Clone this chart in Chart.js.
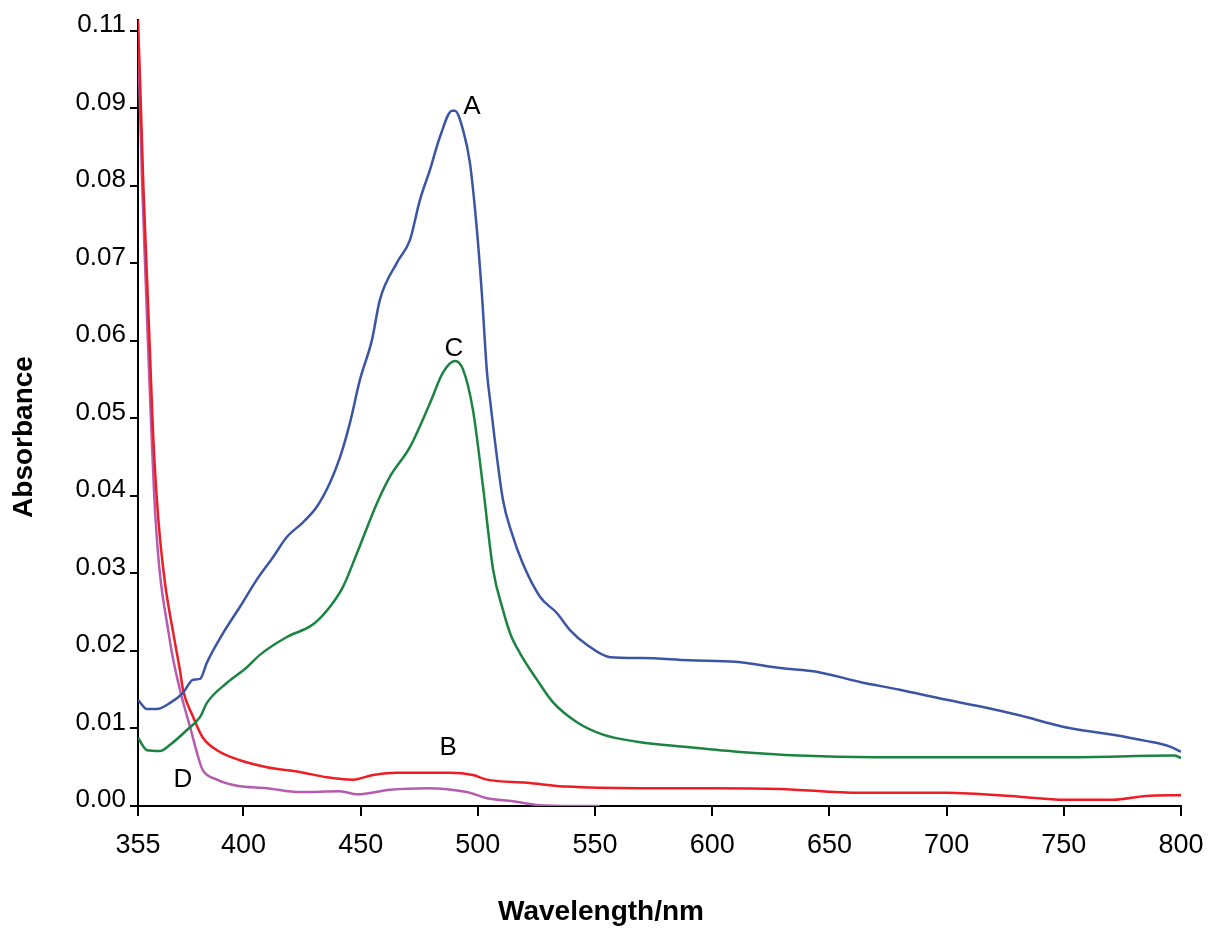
<!DOCTYPE html>
<html>
<head>
<meta charset="utf-8">
<script src="https://cdn.jsdelivr.net/npm/chart.js@4.4.1/dist/chart.umd.min.js"></script>
<style>
  html, body { margin: 0; padding: 0; background: #fff; }
  #wrap { width: 1210px; height: 929px; }
</style>
</head>
<body>
<div id="wrap"><canvas id="spectra"></canvas></div>
<script>
// wavelength (nm) / absorbance
const nmA = [355, 358.8, 363, 368.7, 374.2, 378.5, 381.5, 384.4, 391.3, 398.5, 405.7, 412.6, 418.5, 425.4, 431.3, 436.9, 441.2, 445.4, 449.7, 454.8, 458.2, 465.5, 471, 475.3, 479.6, 483.8, 489, 490.2, 493.7, 496.6, 499.6, 501.8, 503.9, 505.2, 510.7, 514.5, 519, 526.5, 533.7, 539.3, 546.5, 556.4, 570, 590, 610, 629, 645, 663, 680, 700, 715, 731, 750, 771, 785, 795, 800];
const absA = [0.0137, 0.0125, 0.0125, 0.0133, 0.0146, 0.0163, 0.0164, 0.0185, 0.0223, 0.0257, 0.0292, 0.0321, 0.0347, 0.0366, 0.0386, 0.0417, 0.0450, 0.0494, 0.0550, 0.0601, 0.0653, 0.0701, 0.0730, 0.0782, 0.0821, 0.0863, 0.0897, 0.0897, 0.0872, 0.0830, 0.0743, 0.0657, 0.0559, 0.0524, 0.0395, 0.0352, 0.0314, 0.0270, 0.0249, 0.0227, 0.0208, 0.0192, 0.0191, 0.0188, 0.0186, 0.0178, 0.0173, 0.0160, 0.0150, 0.0137, 0.0128, 0.0117, 0.0102, 0.0092, 0.0084, 0.0077, 0.0070];

const nmB = [355, 355.9, 357.3, 358.7, 360.1, 361.5, 363.7, 366.5, 370, 372.9, 374.2, 378.5, 382.7, 388.7, 398.5, 410, 424, 435.6, 446.7, 455.3, 465.4, 474, 488.1, 497.9, 503.9, 520.9, 538, 569, 600, 629, 663, 700, 731, 750, 771, 785, 800];
const absB = [0.1014, 0.0934, 0.0799, 0.0692, 0.0585, 0.0476, 0.0369, 0.0288, 0.0224, 0.0175, 0.0150, 0.0115, 0.0088, 0.0072, 0.0059, 0.0050, 0.0044, 0.0037, 0.0034, 0.0040, 0.0043, 0.0043, 0.0043, 0.0040, 0.0034, 0.0030, 0.0025, 0.0023, 0.0023, 0.0022, 0.0017, 0.0017, 0.0012, 0.0008, 0.0008, 0.0013, 0.0014];

const nmC = [355, 358.8, 364.4, 368.7, 375.9, 381.5, 384.4, 393, 401.5, 407, 418.5, 429.6, 436.9, 442.5, 448.4, 457, 462.5, 471, 479.6, 485.1, 490.2, 493.7, 497.9, 502.2, 506.5, 510.7, 514, 518, 525.2, 532, 542.3, 553.4, 567.9, 589.2, 610.5, 637, 670, 700, 750, 797, 800];
const absC = [0.0088, 0.0072, 0.0071, 0.0079, 0.0098, 0.0115, 0.0133, 0.0159, 0.0179, 0.0195, 0.0218, 0.0234, 0.0257, 0.0283, 0.0326, 0.0391, 0.0425, 0.0463, 0.0520, 0.0559, 0.0574, 0.0563, 0.0511, 0.0412, 0.0305, 0.0253, 0.0221, 0.0197, 0.0163, 0.0134, 0.0108, 0.0092, 0.0083, 0.0076, 0.0070, 0.0065, 0.0063, 0.0063, 0.0063, 0.0065, 0.0062];

const nmD = [355, 356.8, 359.4, 362.5, 368.5, 372.9, 377.2, 381.5, 382.7, 388.7, 397.2, 410, 424, 441.2, 448.4, 462.5, 478.3, 495.3, 503.9, 515, 526.5, 540.6, 552];
const absD = [0.0998, 0.0799, 0.0585, 0.0369, 0.0215, 0.0150, 0.0102, 0.0055, 0.0046, 0.0034, 0.0026, 0.0023, 0.0018, 0.0019, 0.0015, 0.0021, 0.0023, 0.0018, 0.0010, 0.0006, 0.0001, 0.0000, 0.0000];

const xTickValues = [355, 400, 450, 500, 550, 600, 650, 700, 750, 800];
const xTickLabels = ["355", "400", "450", "500", "550", "600", "650", "700", "750", "800"];
const yTickValues = [0, 0.01, 0.02, 0.03, 0.04, 0.05, 0.06, 0.07, 0.08, 0.09, 0.10];
const yTickLabels = ["0.00", "0.01", "0.02", "0.03", "0.04", "0.05", "0.06", "0.07", "0.08", "0.09", "0.11"];

// curve letters, placed in data units
const tagText = ["A", "B", "C", "D"];
const tagNm = [497.5, 487.3, 489.8, 374.2];
const tagAbs = [0.0902, 0.0075, 0.0590, 0.0034];

const xTitle = "Wavelength/nm";
const yTitle = "Absorbance";

const FONT = "'Liberation Sans', Arial, sans-serif";

const toPoints = (xs, ys) => xs.map((x, i) => ({ x: x, y: ys[i] }));

const line = (label, xs, ys, color) => ({
    label: label,
    data: toPoints(xs, ys),
    borderColor: color,
    borderWidth: 2.5,
    pointRadius: 0,
    fill: false,
    cubicInterpolationMode: "monotone"
});

// letters next to the curves + axis titles (the originals sit off-centre)
const curveTags = {
    id: "curveTags",
    afterDatasetsDraw: function (chart) {
        const ctx = chart.ctx;
        const xs = chart.scales.x, ys = chart.scales.y;
        ctx.save();
        ctx.font = "26px " + FONT;
        ctx.fillStyle = "#000";
        ctx.textAlign = "center";
        ctx.textBaseline = "middle";
        tagText.forEach((t, i) => {
            ctx.fillText(t, xs.getPixelForValue(tagNm[i]), ys.getPixelForValue(tagAbs[i]));
        });

        ctx.font = "bold 28px " + FONT;
        ctx.fillText(xTitle, 601, 912);
        ctx.translate(24, 437);
        ctx.rotate(-Math.PI / 2);
        ctx.fillText(yTitle, 0, 0);
        ctx.restore();
    }
};

new Chart(document.getElementById("spectra"), {
    type: "line",
    data: {
        datasets: [
            line("A", nmA, absA, "#3B55A5"),
            line("C", nmC, absC, "#1B8441"),
            line("B", nmB, absB, "#EE1D25"),
            line("D", nmD, absD, "#B55CAE")
        ]
    },
    options: {
        responsive: true,
        maintainAspectRatio: false,
        animation: false,
        layout: { padding: { top: 20, right: 29, bottom: 0, left: 0 } },
        plugins: {
            legend: { display: false },
            tooltip: { enabled: false }
        },
        scales: {
            x: {
                type: "linear",
                min: 355,
                max: 800,
                afterBuildTicks: (s) => { s.ticks = xTickValues.map(v => ({ value: v })); },
                afterFit: (s) => { s.height = 123; s.paddingRight = 0; s.paddingLeft = 0; },
                ticks: {
                    color: "#000",
                    padding: 13,
                    maxRotation: 0,
                    font: { family: FONT, size: 27 },
                    callback: (v) => xTickLabels[xTickValues.indexOf(v)]
                },
                grid: { drawOnChartArea: false, drawTicks: true, tickLength: 10, color: "#000", lineWidth: 2 },
                border: { display: true, color: "#000", width: 2 }
            },
            y: {
                min: 0,
                max: 0.1014,
                afterBuildTicks: (s) => { s.ticks = yTickValues.map(v => ({ value: v })); },
                afterFit: (s) => { s.width = 138; },
                ticks: {
                    color: "#000",
                    padding: 4,
                    labelOffset: -6,
                    font: { family: FONT, size: 26 },
                    callback: (v, i) => yTickLabels[i]
                },
                grid: { drawOnChartArea: false, drawTicks: true, tickLength: 8, color: "#000", lineWidth: 2 },
                border: { display: true, color: "#000", width: 2 }
            }
        }
    },
    plugins: [curveTags]
});
</script>
</body>
</html>
